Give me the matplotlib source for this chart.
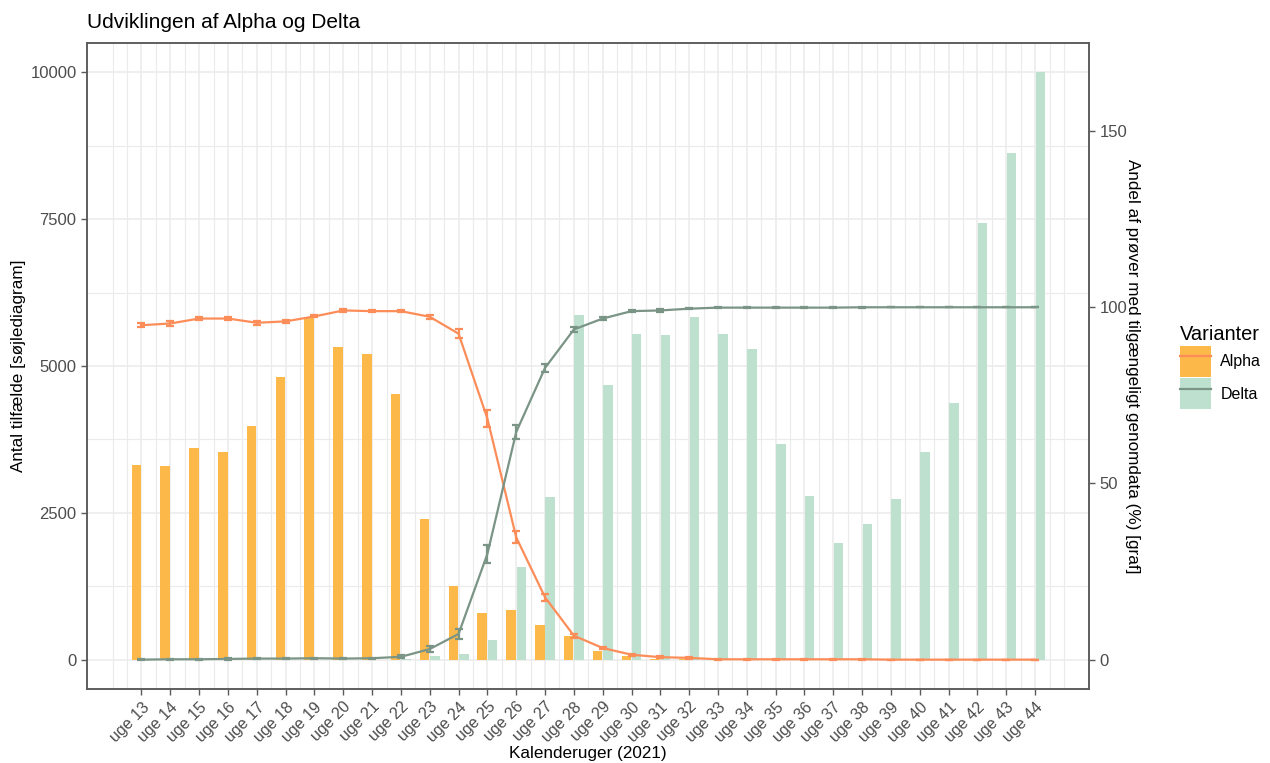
import numpy as np
import matplotlib
matplotlib.use("Agg")
import matplotlib.pyplot as plt
from matplotlib.patches import Patch
from matplotlib.lines import Line2D
from matplotlib.transforms import ScaledTranslation

plt.rcParams['font.family'] = ['Liberation Sans', 'DejaVu Sans']

# data
weeks = list(range(13, 45))
week_labels = ['uge %d' % w for w in weeks]

alpha_cases = [3310, 3290, 3610, 3540, 3970, 4820, 5830, 5320, 5200, 4520,
               2395, 1255, 800, 840, 595, 410, 154, 68, 17, 5,
               0, 0, 0, 0, 0, 0, 0, 0, 0, 0, 0, 0]
delta_cases = [0, 0, 0, 0, 0, 0, 0, 0, 0, 10,
               65, 88, 341, 1575, 2765, 5870, 4681, 5550, 5520, 5842,
               5546, 5290, 3674, 2782, 1985, 2304, 2741, 3538, 4363, 7440, 8635, 10000]

alpha_pct = [94.9, 95.4, 96.8, 96.8, 95.6, 96.0, 97.4, 99.1, 98.9, 98.9,
             97.3, 92.5, 68.4, 34.7, 17.7, 6.8, 3.3, 1.4, 0.7, 0.5,
             0.1, 0.1, 0.1, 0.1, 0.1, 0.1, 0.0, 0.0, 0.0, 0.0, 0.0, 0.0]
alpha_err = [0.6, 0.6, 0.5, 0.5, 0.5, 0.4, 0.3, 0.3, 0.3, 0.3,
             0.6, 1.2, 2.5, 1.7, 1.0, 0.6, 0.4, 0.3, 0.2, 0.2,
             0.1, 0.1, 0.1, 0.1, 0.1, 0.1, 0.0, 0.0, 0.0, 0.0, 0.0, 0.0]
delta_pct = [0.0, 0.1, 0.1, 0.2, 0.3, 0.3, 0.4, 0.3, 0.4, 0.8,
             3.0, 7.3, 30.0, 64.6, 82.8, 93.7, 96.8, 98.9, 99.1, 99.6,
             99.9, 99.9, 99.9, 99.9, 99.9, 100, 100, 100, 100, 100, 100, 100]
delta_err = [0.1, 0.1, 0.1, 0.2, 0.2, 0.2, 0.2, 0.2, 0.2, 0.4,
             0.8, 1.5, 2.6, 1.9, 1.1, 0.7, 0.5, 0.3, 0.3, 0.2,
             0.2, 0.2, 0.2, 0.2, 0.2, 0.1, 0.0, 0.0, 0.0, 0.0, 0.0, 0.0]

alpha_bar_col = '#FDB84A'
delta_bar_col = '#BDE0CF'
alpha_line_col = '#FC8D59'
delta_line_col = '#7A9485'
grid_col = '#EBEBEB'
frame_col = '#5A5A5A'
tick_col = '#4D4D4D'

fig = plt.figure(figsize=(12.7, 7.63), dpi=100)
ax = fig.add_axes([87 / 1270, 74 / 763, 1002 / 1270, 646 / 763])
ax2 = ax.twinx()

x = np.array(weeks, dtype=float)
bw = 0.33
ax.bar(x - 0.18, alpha_cases, width=bw, color=alpha_bar_col, zorder=2)
ax.bar(x + 0.18, delta_cases, width=bw, color=delta_bar_col, zorder=2)

ax2.errorbar(x, alpha_pct, yerr=alpha_err, color=alpha_line_col, lw=1.6,
             capsize=3, elinewidth=1.6, capthick=1.6, zorder=3)
ax2.errorbar(x, delta_pct, yerr=delta_err, color=delta_line_col, lw=1.6,
             capsize=3, elinewidth=1.6, capthick=1.6, zorder=3)

ax.set_xlim(11.11, 45.87)
ax.set_ylim(-500, 10500)
ax2.set_ylim(-500 / 60, 10500 / 60)

ax.set_xticks(weeks)
ax.set_xticklabels(week_labels, rotation=45, ha='right', va='top',
                   rotation_mode='anchor', fontsize=11.5, color=tick_col)
off = ScaledTranslation(12 / 100, 0, fig.dpi_scale_trans)
for lab in ax.get_xticklabels():
    lab.set_transform(lab.get_transform() + off)
ax.set_xticks(np.arange(12, 45.01, 0.5), minor=True)
ax.set_yticks([0, 2500, 5000, 7500, 10000])
ax.set_yticks([1250, 3750, 6250, 8750], minor=True)
ax.tick_params(which='minor', length=0)
ax.tick_params(which='major', length=4, width=1, color=frame_col, labelsize=12, labelcolor=tick_col)
ax.tick_params(axis='x', labelsize=11.5)
ax2.set_yticks([0, 50, 100, 150])
ax2.tick_params(length=4, width=1, color=frame_col, labelsize=12, labelcolor=tick_col)

ax.grid(True, which='major', color=grid_col, lw=1.1)
ax.grid(True, which='minor', color=grid_col, lw=0.8)
ax.set_axisbelow(True)

for a in (ax, ax2):
    for s in a.spines.values():
        s.set_color(frame_col)
        s.set_linewidth(1.1)

ax.set_title('Udviklingen af Alpha og Delta', loc='left', fontsize=15, pad=11)
ax.set_xlabel('Kalenderuger (2021)', fontsize=12.3, labelpad=1)
ax.set_ylabel('Antal tilfælde [søjlediagram]', fontsize=12.3, labelpad=3)
ax2.set_ylabel('Andel af prøver med tilgængeligt genomdata (%) [graf]', fontsize=12.3,
               rotation=-90, labelpad=9)

handles = [(Patch(facecolor=alpha_bar_col), Line2D([], [], color=alpha_line_col, lw=1.6)),
           (Patch(facecolor=delta_bar_col), Line2D([], [], color=delta_line_col, lw=1.6))]
leg = fig.legend(handles, ['Alpha', 'Delta'], title='Varianter', loc='upper left',
                 bbox_to_anchor=(1166 / 1270, 1 - 311 / 763), frameon=False,
                 fontsize=11.5, title_fontsize=14.4, handlelength=1.9, handleheight=2.6,
                 handletextpad=0.6, labelspacing=0.1)
leg._legend_box.align = 'left'

fig.savefig('out.png', dpi=100)
